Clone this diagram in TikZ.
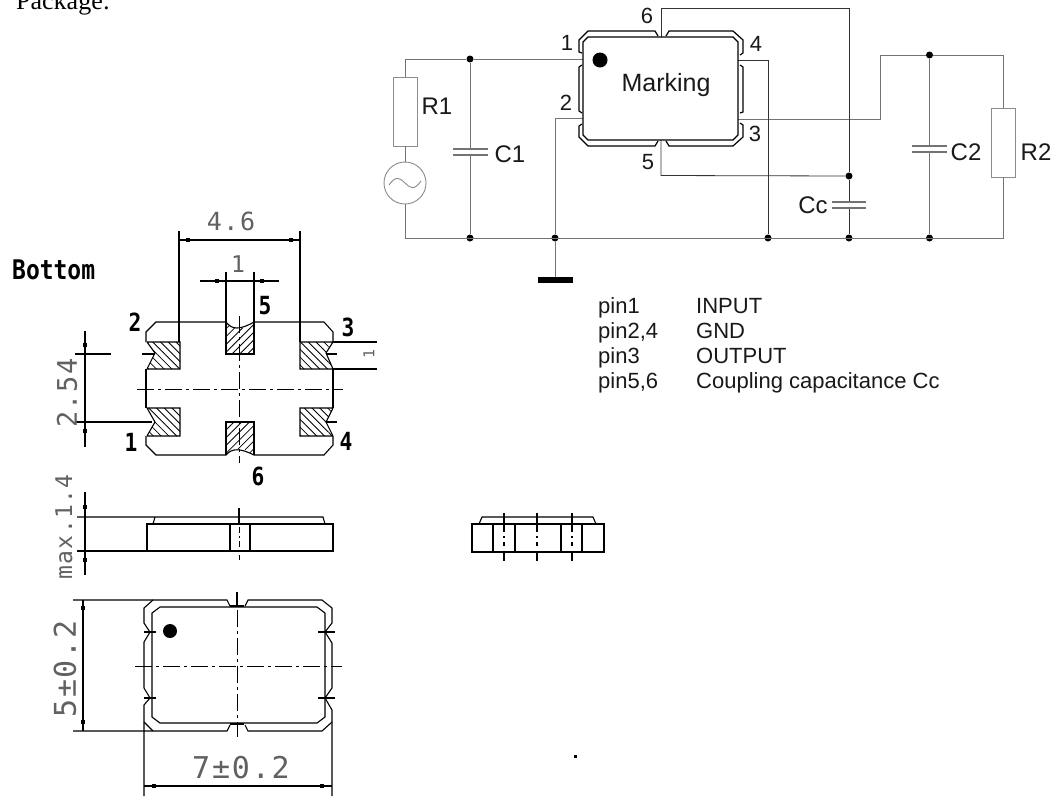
\documentclass[tikz,border=0pt]{standalone}
\usepackage{fontspec}
\usetikzlibrary{patterns.meta}
\setmainfont{Liberation Sans}
\newfontfamily\serifpk{Liberation Serif}
\newfontfamily\monopk[LetterSpace=6]{DejaVu Sans Mono}
\newfontfamily\boldpk{DejaVu Sans Mono Bold}
\newcommand{\fsz}[1]{\fontsize{#1}{#1}\selectfont}
\newcommand{\bn}[1]{\scalebox{.85}[1]{#1}}
\tikzset{
  wire/.style={draw=black!55,line width=0.9pt},
  darkwire/.style={draw=black!80,line width=0.8pt},
  comp/.style={draw=black!45,line width=0.9pt,fill=white,inner sep=0pt,minimum width=24pt,minimum height=69pt},
  src/.style={circle,draw=black!45,line width=0.9pt,inner sep=0pt,minimum size=42pt},
  plate/.style={draw=black!55,line width=1.1pt},
  jn/.style={circle,fill=black,inner sep=0pt,minimum size=7pt},
  cktl/.style={inner sep=0pt,text=black!90,font=\fsz{24}},
  cktn/.style={inner sep=0pt,text=black!90,font=\fsz{22}},
  pinl/.style={inner sep=0pt,anchor=base west,text=black!90,font=\fsz{22}},
  mech/.style={draw=black,line width=1.1pt},
  cl/.style={draw=black,line width=0.9pt,dash pattern=on 17pt off 4pt on 3pt off 4pt},
  sq/.style={fill=black,inner sep=0pt,minimum size=4.5pt},
  diml/.style={inner sep=0pt,text=black!62},
  boldl/.style={inner sep=0pt,font=\boldpk\fsz{25}},
  hatchA/.style={pattern={Lines[angle=-45,distance=5.5pt,line width=.8pt]}},
  hatchB/.style={pattern={Lines[angle=45,distance=5.5pt,line width=.8pt]}},
}
\begin{document}
\begin{tikzpicture}[x=1pt,y=-1pt,line cap=butt]
\useasboundingbox (0,0) rectangle (1051,796);
\fill[white] (0,0) rectangle (1051,796);
\begin{scope}
\clip (0,0) rectangle (1051,796);
\node[inner sep=0pt,anchor=base west,font=\serifpk\fsz{26}] (pkg) at (16,9) {Package:};
\end{scope}

% ---------- circuit ----------
\node[comp] (R1) at (405,111.5) {};
\node[comp] (R2) at (1003.5,142.5) {};
\node[src] (V) at (405,183) {};
\draw[black!45,line width=0.9pt] (389,185) .. controls (396,175) and (400,178) .. (405,183) .. controls (410,188) and (414,191) .. (421,181);
\coordinate (p1) at (583,59);
\coordinate (p2) at (583,118);
\coordinate (p3) at (738,119);
\coordinate (p4) at (738,60);
\coordinate (p5) at (661,140);
\coordinate (p6) at (661,37);
\coordinate (tl) at (405,59);
\coordinate (bl) at (405,238);
\coordinate (tr) at (1003.5,55);
\coordinate (br) at (1003.5,238);
\coordinate (g1) at (555,277);
\node[jn] (j1) at (470,59) {};
\node[jn] (j2) at (470,238) {};
\node[jn] (j3) at (555,238) {};
\node[jn] (j4) at (768,238) {};
\node[jn] (j5) at (849,238) {};
\node[jn] (j6) at (929.5,238) {};
\node[jn] (j7) at (929.5,55) {};
\node[jn] (j8) at (849,176) {};
\draw[wire] (R1.north) -- (tl) -- (j1) -- (p1);
\draw[wire] (R1.south) -- (V.north);
\draw[wire] (V.south) -- (bl) -- (br) -- (R2.south);
\draw[wire] (R2.north) -- (tr) -- (j7) -- (880,55) -- (880,119) -- (p3);
\draw[wire] (j1) -- (j2);
\draw[wire] (j7) -- (j6);
\draw[wire] (p2) -- (555,118) -- (j3) -- (g1);
\draw[darkwire] (p4) -- (768,60) -- (j4);
\draw[darkwire] (p6) -- (661,8) -- (849,8) -- (j8);
\draw[darkwire] (p5) -- (661,175.5) -- (j8);
\draw[darkwire] (j8) -- (j5);
\fill[black] (538,277) rectangle (573,283);
\fill[white] (460,150) rectangle (480,154);
\draw[plate] (453,149) -- (488,149) (453,155) -- (488,155);
\fill[white] (920,147) rectangle (940,151);
\draw[plate] (912,146) -- (947,146) (912,152) -- (947,152);
\fill[white] (840,203) rectangle (860,207);
\draw[plate] (832,202) -- (866,202) (832,208) -- (866,208);
% package
\draw[line width=1.2pt] (588,37) -- (733,37) -- (738,42) -- (738,135) -- (733,140) -- (588,140) -- (583,135) -- (583,42) -- cycle;
\begin{scope}[line width=1.2pt]
\draw (582,53) -- (579,52) -- (579,40) -- (588,31) -- (655,31) -- (658,36);
\draw (666,36) -- (669,31) -- (733,31) -- (743,40) -- (743,53) -- (740,55);
\draw (582,65) -- (579,67) -- (579,111) -- (582,113);
\draw (740,65) -- (743,67) -- (743,112) -- (740,113);
\draw (582,124) -- (579,126) -- (579,137) -- (588,146) -- (655,146) -- (658,141);
\draw (666,141) -- (669,146) -- (733,146) -- (743,137) -- (743,125) -- (740,123);
\end{scope}
\fill (600,60) circle (7.5);
\node[cktl,font=\fsz{25}] (mk) at (666,85) {Marking};
\node[cktn] (n1) at (567,43) {1};
\node[cktn] (n2) at (566,103) {2};
\node[cktn] (n6) at (647,16) {6};
\node[cktn] (n5) at (648,162) {5};
\node[cktn] (n4) at (756,44) {4};
\node[cktn] (n3) at (755,134) {3};
\node[cktl] (lR1) at (437,106) {R1};
\node[cktl] (lC1) at (510,154) {C1};
\node[cktl] (lC2) at (966,152) {C2};
\node[cktl] (lR2) at (1036,152) {R2};
\node[cktl] (lCc) at (813,205) {Cc};
\node[pinl] (a1) at (598,313) {pin1};
\node[pinl] (a2) at (598,338) {pin2,4};
\node[pinl] (a3) at (598,363) {pin3};
\node[pinl] (a4) at (598,388) {pin5,6};
\node[pinl] (b1) at (696,313) {INPUT};
\node[pinl] (b2) at (696,338) {GND};
\node[pinl] (b3) at (696,363) {OUTPUT};
\node[pinl] (b4) at (696,388) {Coupling capacitance Cc};

% ---------- bottom view ----------
\node[boldl,anchor=west,font=\boldpk\fsz{27}] (bot) at (12,270) {\bn{Bottom}};
\fill[hatchA] (147,342) -- (180,342) -- (180,369) -- (147,369) -- (155,353) -- cycle;
\fill[hatchA] (147,408) -- (180,408) -- (180,436) -- (147,436) -- (155,422) -- cycle;
\fill[hatchA] (300,342) -- (333,342) -- (326,353) -- (333,369) -- (300,369) -- cycle;
\fill[hatchA] (300,408) -- (333,408) -- (326,422) -- (333,436) -- (300,436) -- cycle;
\fill[hatchB] (226,322) -- (235,328) -- (244,328) -- (254,322) -- (254,354) -- (226,354) -- cycle;
\fill[hatchB] (226,422) -- (254,422) -- (254,455) -- (244,449) -- (235,449) -- (226,455) -- cycle;
\begin{scope}[mech]
\draw (146,342) -- (146,332) -- (156,322) -- (226,322) .. controls (232,330) and (240,330) .. (254,322) -- (324,322) -- (333,332) -- (333,342);
\draw (146,369) -- (146,408) (333,369) -- (333,408);
\draw (146,436) -- (146,445) -- (156,455) -- (226,455) .. controls (232,448) and (240,448) .. (254,455) -- (324,455) -- (333,445) -- (333,436);
\draw (147,342) -- (180,342) -- (180,369) -- (147,369) (147,342) -- (155,353) -- (147,369);
\draw (147,408) -- (180,408) -- (180,436) -- (147,436) (147,408) -- (155,422) -- (147,436);
\draw (333,342) -- (300,342) -- (300,369) -- (333,369) (333,342) -- (326,353) -- (333,369);
\draw (333,408) -- (300,408) -- (300,436) -- (333,436) (333,408) -- (326,422) -- (333,436);
\draw (226,322) -- (226,354) -- (254,354) -- (254,322);
\draw (226,455) -- (226,422) -- (254,422) -- (254,455);
% ticks
\draw (142,354) -- (155,354) (326,354) -- (337,354) (326,422) -- (337,422);
% dimension 4.6
\draw (179,231) -- (179,342) (300,231) -- (300,342) (179,240) -- (300,240);
% dimension 1
\draw (226,272) -- (226,322) (254,272) -- (254,322) (200,281) -- (279,281);
% dimension 2.54
\draw (85,331) -- (85,447) (75,354) -- (111,354) (75,422) -- (152,422);
% dimension 1, right
\draw (333,342) -- (377,342) (333,369) -- (377,369);
\end{scope}
\draw[cl] (137,389) -- (343,389);
\draw[cl] (239,316) -- (239,463);
\foreach \n/\x/\y in {a/188/240,b/291/240,c/217/281,d/262/281,e/85/345,f/85/431}
  \node[sq] (s\n) at (\x,\y) {};
\node[diml,font=\monopk\fsz{25}] (d46) at (231,221) {4.6};
\node[diml,font=\monopk\fsz{23}] (d1) at (238,264) {1};
\node[diml,rotate=90,font=\monopk\fsz{27}] (d254) at (67,393) {2.54};
\node[diml,rotate=90,font=\monopk\fsz{15}] (d1r) at (369,354) {1};
\node[boldl] (l5) at (265,306) {\bn{5}};
\node[boldl] (l2) at (135,322) {\bn{2}};
\node[boldl] (l3) at (348,327) {\bn{3}};
\node[boldl] (l1) at (131,442) {\bn{1}};
\node[boldl] (l4) at (346,441) {\bn{4}};
\node[boldl] (l6) at (258,476) {\bn{6}};

% ---------- side view ----------
\begin{scope}[mech]
\draw (147,524) rectangle (333,551);
\draw (77,517) -- (323,517) -- (325,524);
\draw (155,517) -- (153,524);
\draw (77,551) -- (147,551);
\draw (85,492) -- (85,575);
\draw (230,524) -- (230,551) (250,524) -- (250,551);
\draw (239,508) -- (239,524);
\end{scope}
\draw[cl,dash pattern=on 6pt off 3pt on 2pt off 3pt] (239,527) -- (239,560);
\node[sq] (sg) at (85,507) {};
\node[sq] (sh) at (85,560) {};
\node[diml,rotate=90,font=\monopk\fsz{23}] (dmax) at (64,527) {max.1.4};

% ---------- small side view ----------
\begin{scope}[mech]
\draw (472,524) rectangle (604,552);
\draw (479,524) -- (482,517) -- (593,517) -- (596,524);
\draw (493,524) -- (493,552) (515,524) -- (515,552) (561,524) -- (561,552) (582,524) -- (582,552);
\end{scope}
\foreach \x in {504,537,572}{
  \draw[mech] (\x,513) -- (\x,532) (\x,552) -- (\x,561);
  \draw[mech] (\x,536) -- (\x,538) (\x,542) -- (\x,546);
}

% ---------- top view ----------
\begin{scope}[mech]
\draw (160,607) -- (317,607) -- (325,613) -- (325,717) -- (317,723) -- (160,723) -- (152,717) -- (152,613) -- cycle;
\draw (73,600) -- (227,600) -- (230,606) (245,606) -- (248,600) -- (322,600) -- (332,608) -- (332,623) -- (325,632) -- (332,643) -- (332,688) -- (325,698) -- (332,710) -- (332,796);
\draw (153,600) -- (144,608) -- (144,623) -- (150,632) -- (144,642) -- (144,688) -- (150,698) -- (144,705) -- (144,796);
\draw (73,731) -- (227,731) -- (230,725) (245,725) -- (248,731) -- (322,731) -- (332,722);
\draw (144,722) -- (153,731);
\draw (83,600) -- (83,731);
\draw (144,786) -- (332,786);
\draw (144,632) -- (156,632) (318,632) -- (335,632) (144,698) -- (156,698) (318,698) -- (335,698);
\draw (237,592) -- (237,606);
\end{scope}
\draw[line width=2pt] (230,606) -- (244,606) (230,724) -- (244,724);
\draw[cl] (135,666) -- (342,666);
\draw[cl] (237,610) -- (237,737);
\fill (170,631) circle (7);
\foreach \n/\x/\y in {i/83/608,j/83/722,k/154/786,l/322/786}
  \node[sq] (s\n) at (\x,\y) {};
\node[diml,rotate=90,font=\monopk\fsz{30}] (d5) at (65,669) {5±0.2};
\node[diml,font=\monopk\fsz{30}] (d7) at (241,768) {7±0.2};
\node[inner sep=0pt,fill=black,minimum size=3pt] (spk) at (575,756) {};
\end{tikzpicture}
\end{document}
